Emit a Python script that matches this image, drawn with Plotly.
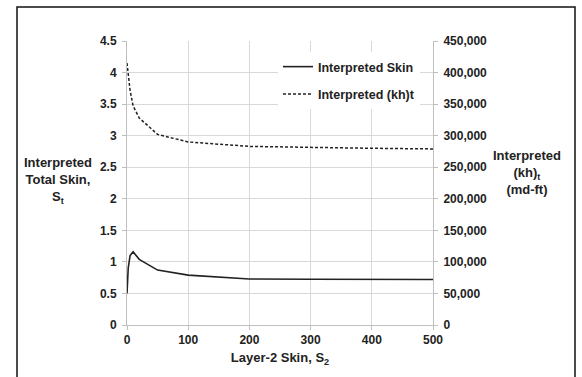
import plotly.graph_objects as go

# Data
layer2_skin = [0, 2, 5, 10, 20, 50, 100, 200, 300, 400, 500]
interp_skin = [0.5, 0.9, 1.1, 1.16, 1.04, 0.87, 0.79, 0.73, 0.725, 0.72, 0.72]
kh_x = [0, 2, 5, 10, 20, 50, 100, 200, 300, 400, 500]
interp_kh = [415000, 398000, 372000, 347000, 328000, 302000, 290000, 283000, 281000, 280000, 279000]

left_ticks = [0, 0.5, 1, 1.5, 2, 2.5, 3, 3.5, 4, 4.5]
right_ticks = [0, 50000, 100000, 150000, 200000, 250000, 300000, 350000, 400000, 450000]
x_ticks = [0, 100, 200, 300, 400, 500]

W, H = 582, 377
ML, MR, MT, MB = 127, 149, 41, 52
PW, PH = W - ML - MR, H - MT - MB

def px_x(p):
    return (p - ML) / PW

def px_y(p):
    return (H - MB - p) / PH

FONT = "Liberation Sans"
TXT = "#222222"
GRID = "#d9d9d9"
TICKF = dict(family=FONT, size=12, color=TXT, weight="bold")
TITLEF = dict(family=FONT, size=13, color=TXT, weight="bold")

fig = go.Figure()
fig.add_trace(go.Scatter(x=layer2_skin, y=interp_skin, mode="lines", name="Interpreted Skin",
                         line=dict(color="#222222", width=1.6), legendgroup="a"))
fig.add_trace(go.Scatter(x=kh_x, y=interp_kh, mode="lines", name="Interpreted (kh)t",
                         line=dict(color="#222222", width=1.5, dash="3px,2px"), yaxis="y2",
                         legendgroup="b"))

fig.update_layout(
    width=W, height=H,
    margin=dict(l=ML, r=MR, t=MT, b=MB, pad=0),
    paper_bgcolor="white", plot_bgcolor="white",
    font=dict(family=FONT, size=12, color=TXT),
    showlegend=True,
    legend=dict(x=px_x(278), y=px_y(52), xanchor="left", yanchor="top",
                bgcolor="white", borderwidth=0, tracegroupgap=8,
                font=dict(family=FONT, size=12.5, color=TXT, weight="bold")),
    xaxis=dict(range=[0, 500], tickvals=x_ticks, ticktext=[str(v) for v in x_ticks],
               showgrid=True, gridcolor=GRID, gridwidth=1, zeroline=False,
               showline=True, linecolor="#bfbfbf", ticks="outside", ticklen=4, tickcolor="#bfbfbf",
               tickfont=TICKF,
               title=dict(text="Layer-2 Skin, S<sub>2</sub>", standoff=6, font=TITLEF)),
    yaxis=dict(range=[0, 4.5], tickvals=left_ticks, ticktext=[f"{v:g}" for v in left_ticks],
               showgrid=True, gridcolor=GRID, gridwidth=1, zeroline=False,
               showline=True, linecolor="#bfbfbf", ticks="outside", ticklen=4, tickcolor="#bfbfbf",
               ticklabelstandoff=3, tickfont=TICKF),
    yaxis2=dict(range=[0, 450000], overlaying="y", side="right", tickvals=right_ticks,
                ticktext=[f"{v:,}" for v in right_ticks], showgrid=False, zeroline=False,
                showline=True, linecolor="#bfbfbf", ticks="outside", ticklen=4, tickcolor="#bfbfbf",
                ticklabelstandoff=3, tickfont=TICKF),
)

fig.add_annotation(text="Interpreted<br>Total Skin,<br>S<sub>t</sub>", xref="paper", yref="paper",
                   x=px_x(58), y=px_y(180), xanchor="center", yanchor="middle", showarrow=False,
                   align="center", font=TITLEF)
fig.add_annotation(text="Interpreted<br>(kh)<sub>t</sub><br>(md-ft)", xref="paper", yref="paper",
                   x=px_x(527), y=px_y(172), xanchor="center", yanchor="middle", showarrow=False,
                   align="center", font=TITLEF)

# outer frame
fig.add_shape(type="rect", xref="paper", yref="paper",
              x0=px_x(17), x1=px_x(575), y0=px_y(385), y1=px_y(7),
              line=dict(color="#111111", width=1.5), fillcolor="rgba(0,0,0,0)", layer="above")

fig.write_html("out.html")
